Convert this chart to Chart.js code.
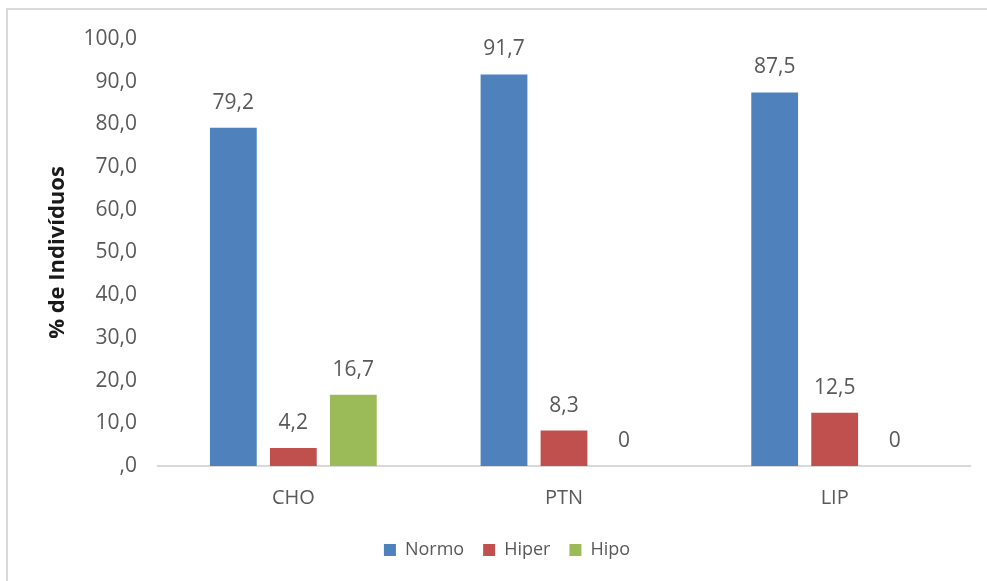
<!DOCTYPE html>
<html lang="pt">
<head>
    <meta charset="UTF-8">
    <title>% de Indivíduos por macronutriente</title>
    <script src="https://cdn.jsdelivr.net/npm/chart.js"></script>
    <style>
        html, body {
            margin: 0;
            padding: 0;
            background: #fff;
            overflow: hidden;
        }
        .wrap {
            position: relative;
            width: 987px;
            height: 581px;
            overflow: hidden;
        }
        .frame {
            position: absolute;
            left: 6px;
            top: 8px;
            width: 1100px;
            height: 700px;
            border: 2px solid #d9d9d9;
        }
        canvas {
            position: absolute;
            left: 0;
            top: 0;
        }
    </style>
</head>
<body>

<div class="wrap">
    <div class="frame"></div>
    <canvas id="chart" width="987" height="581"></canvas>
</div>

<script>
    const categories = ['CHO', 'PTN', 'LIP'];
    const normo = [79.2, 91.7, 87.5];
    const hiper = [4.2, 8.3, 12.5];
    const hipo = [16.7, 0, 0];
    const yTickLabels = [',0', '10,0', '20,0', '30,0', '40,0', '50,0', '60,0', '70,0', '80,0', '90,0', '100,0'];

    const textColor = '#595959';
    const fontFamily = '"Open Sans", sans-serif';

    function fmt(v) {
        return v === 0 ? '0' : v.toFixed(1).replace('.', ',');
    }

    // value labels above each bar
    const barLabels = {
        id: 'barLabels',
        afterDatasetsDraw(chart) {
            const ctx = chart.ctx;
            ctx.save();
            ctx.font = '21px ' + fontFamily;
            ctx.fillStyle = textColor;
            ctx.textAlign = 'center';
            ctx.textBaseline = 'middle';
            chart.data.datasets.forEach((ds, i) => {
                chart.getDatasetMeta(i).data.forEach((bar, j) => {
                    ctx.fillText(fmt(ds.data[j]), bar.x, bar.y - 25);
                });
            });
            ctx.restore();
        }
    };

    new Chart(document.getElementById('chart'), {
        type: 'bar',
        data: {
            labels: categories,
            datasets: [
                { label: 'Normo', data: normo, backgroundColor: '#4f81bd' },
                { label: 'Hiper', data: hiper, backgroundColor: '#c0504d' },
                { label: 'Hipo', data: hipo, backgroundColor: '#9bbb59' }
            ]
        },
        options: {
            responsive: false,
            animation: false,
            devicePixelRatio: 1,
            categoryPercentage: 0.665,
            barPercentage: 0.78,
            layout: {
                padding: { left: 44, top: 39, right: 17, bottom: 12 }
            },
            plugins: {
                tooltip: { enabled: false },
                legend: {
                    position: 'bottom',
                    labels: {
                        boxWidth: 12,
                        boxHeight: 12,
                        padding: 19,
                        color: textColor,
                        font: { family: fontFamily, size: 18 }
                    }
                }
            },
            scales: {
                x: {
                    afterFit(scale) { scale.height -= 8; },
                    grid: { display: false, drawTicks: false },
                    border: { display: true, color: '#d9d9d9', width: 2 },
                    ticks: {
                        padding: 20,
                        color: textColor,
                        font: { family: fontFamily, size: 20 }
                    }
                },
                y: {
                    min: 0,
                    max: 100,
                    afterFit(scale) { scale.width = 114; },
                    grid: { display: false, drawTicks: false },
                    border: { display: false },
                    ticks: {
                        stepSize: 10,
                        padding: 21,
                        color: textColor,
                        font: { family: fontFamily, size: 21 },
                        callback: (v, i) => yTickLabels[i]
                    },
                    title: {
                        display: true,
                        text: '% de Indivíduos',
                        color: '#1a1a1a',
                        padding: { top: 1, bottom: 0 },
                        font: { family: fontFamily, size: 22, weight: 'bold' }
                    }
                }
            }
        },
        plugins: [barLabels]
    });
</script>

</body>
</html>
